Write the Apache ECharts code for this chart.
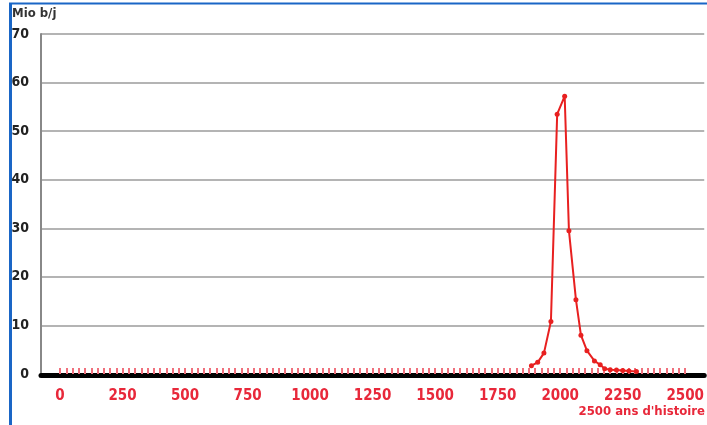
<!DOCTYPE html>
<html>
<head>
<meta charset="utf-8">
<script src="https://cdn.jsdelivr.net/npm/echarts@6/dist/echarts.min.js"></script>
<style>
html,body{margin:0;padding:0;background:#fff;}
#c{width:707px;height:425px;}
</style>
</head>
<body>
<div id="c"></div>
<script>
// Data
const years = [1885, 1910, 1935, 1963, 1988, 2018, 2035, 2063, 2083, 2107, 2137, 2160, 2178, 2200, 2225, 2250, 2275, 2305];
const production = [1.7, 2.4, 4.3, 10.8, 53.5, 57.2, 29.5, 15.3, 8.0, 4.8, 2.7, 1.9, 1.1, 0.9, 0.8, 0.7, 0.6, 0.5];
const xTickLabels = [0, 250, 500, 750, 1000, 1250, 1500, 1750, 2000, 2250, 2500];
const xMinorTicks = [];
for (let v = 0; v <= 2500; v += 25) xMinorTicks.push(v);
const yTitle = 'Mio b/j';
const xTitle = "2500 ans d'histoire";

const FONT = "'Liberation Sans Narrow', 'DejaVu Sans Condensed', 'Arial Narrow', sans-serif";
const RED = '#e8283a';

const chart = echarts.init(document.getElementById('c'), null, {renderer: 'canvas'});
chart.setOption({
  animation: false,
  backgroundColor: '#fff',
  grid: {left: 41, top: 34, right: 0, bottom: 51, containLabel: false},
  xAxis: [{
    type: 'value', min: -76, max: 2576,
    axisLine: {show: false},
    axisTick: {show: true, inside: true, length: 6, customValues: xMinorTicks,
      lineStyle: {color: '#f0707c', width: 2}},
    splitLine: {show: false},
    axisLabel: {
      customValues: xTickLabels, color: RED, fontFamily: FONT, fontWeight: 'bold',
      fontSize: 15, margin: 15, formatter: v => String(v)
    }
  }, {
    type: 'value', min: -76, max: 2576, position: 'bottom', offset: 1,
    axisLine: {show: true, onZero: false, lineStyle: {color: '#000', width: 5}},
    axisTick: {show: false},
    axisLabel: {show: false},
    splitLine: {show: false}
  }],
  yAxis: {
    type: 'value', min: 0, max: 70, interval: 10,
    axisLine: {show: true, onZero: false, lineStyle: {color: '#888', width: 2}},
    axisTick: {show: false},
    splitLine: {show: true, lineStyle: {color: '#b4b4b4', width: 2}},
    axisLabel: {color: '#222', fontFamily: FONT, fontWeight: 'bold', fontSize: 14, margin: 12}
  },
  series: [{
    type: 'line', xAxisIndex: 0,
    data: years.map((y, i) => [y, production[i]]),
    symbol: 'circle', symbolSize: 5,
    lineStyle: {color: '#e82020', width: 2},
    itemStyle: {color: '#e82020'},
    z: 5
  }],
  graphic: [
    {type: 'line', shape: {x1: 10.5, y1: 3, x2: 10.5, y2: 425}, style: {stroke: '#1a66c6', lineWidth: 3}},
    {type: 'line', shape: {x1: 9, y1: 3.5, x2: 707, y2: 3.5}, style: {stroke: '#1a66c6', lineWidth: 2}},
    {type: 'text', left: 12, top: 7, style: {text: yTitle, fill: '#333', font: "bold 13px " + FONT}},
    {type: 'text', right: 2, top: 405, style: {text: xTitle, fill: RED, font: "bold 13px " + FONT}}
  ]
});
</script>
</body>
</html>
